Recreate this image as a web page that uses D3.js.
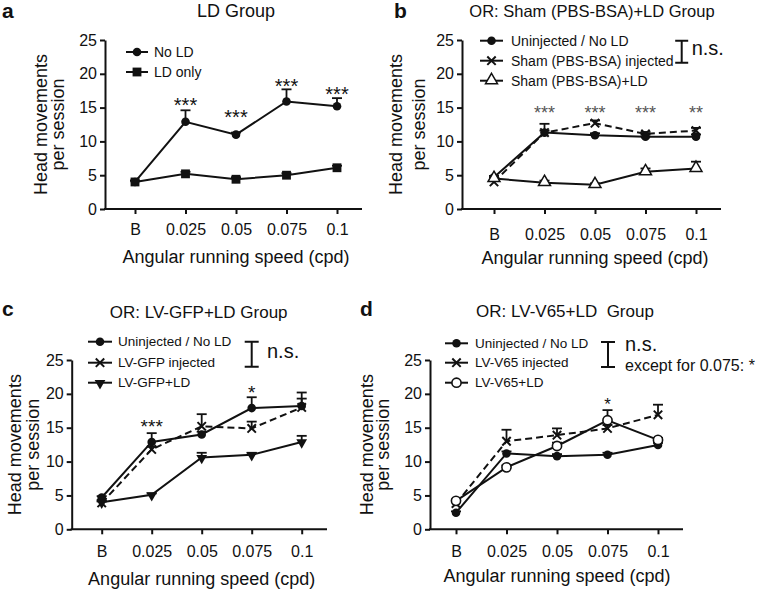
<!DOCTYPE html>
<html>
<head>
<meta charset="utf-8">
<script src="https://cdn.jsdelivr.net/npm/d3@7"></script>
<style>
  body { margin: 0; background: #fff; }
  text { white-space: pre; }
</style>
</head>
<body>
<script>
// ---------------- DATA ----------------
const categories = ["B", "0.025", "0.05", "0.075", "0.1"];
const yTickValues = [0, 5, 10, 15, 20, 25];

// Panel a: LD Group
const aTitle = "LD Group";
const aLabels = ["No LD", "LD only"];
const aNoLD = [4.0, 12.9, 11.0, 15.9, 15.2];
const aNoLDErr = [0.2, 1.7, 0.3, 1.8, 1.2];
const aLDOnly = [4.0, 5.2, 4.4, 5.0, 6.1];
const aLDOnlyErr = [0.2, 0.3, 0.3, 0.3, 0.3];
const aStarCats = ["0.025", "0.05", "0.075", "0.1"];
const aStarText = ["***", "***", "***", "***"];
const aStarLevel = [16.1, 14.3, 18.9, 17.75];

// Panel b: OR: Sham (PBS-BSA)+LD Group
const bTitle = "OR: Sham (PBS-BSA)+LD Group";
const bLabels = ["Uninjected / No LD", "Sham (PBS-BSA) injected", "Sham (PBS-BSA)+LD"];
const bUninj = [4.7, 11.3, 10.9, 10.7, 10.7];
const bUninjErr = [0.2, 0.3, 0.3, 0.3, 0.3];
const bSham = [4.0, 11.3, 12.7, 11.1, 11.6];
const bShamErr = [0.2, 1.3, 0.4, 0.3, 0.4];
const bShamLD = [4.5, 3.9, 3.6, 5.5, 6.0];
const bShamLDErr = [0.2, 0.3, 0.2, 0.5, 1.0];
const bStarCats = ["0.025", "0.05", "0.075", "0.1"];
const bStarText = ["***", "***", "***", "**"];
const bStarLevel = [14.8, 14.8, 14.8, 14.8];

// Panel c: OR: LV-GFP+LD Group
const cTitle = "OR: LV-GFP+LD Group";
const cLabels = ["Uninjected / No LD", "LV-GFP injected", "LV-GFP+LD"];
const cUninj = [4.7, 12.9, 14.0, 17.9, 18.2];
const cUninjErr = [0.2, 1.3, 0.4, 1.6, 1.1];
const cGFP = [3.9, 11.8, 15.2, 14.9, 18.0];
const cGFPErr = [0.2, 0.4, 1.8, 1.0, 2.2];
const cGFPLD = [4.0, 5.1, 10.6, 11.0, 12.9];
const cGFPLDErr = [0.2, 0.2, 0.7, 0.3, 0.9];
const cStarCats = ["0.025", "0.075"];
const cStarText = ["***", "*"];
const cStarLevel = [15.8, 20.8];

// Panel d: OR: LV-V65+LD  Group
const dTitle = "OR: LV-V65+LD  Group";
const dLabels = ["Uninjected / No LD", "LV-V65 injected", "LV-V65+LD"];
const dUninj = [2.45, 11.2, 10.8, 11.0, 12.45];
const dUninjErr = [0.2, 0.3, 0.3, 0.3, 0.3];
const dV65 = [3.8, 13.0, 13.9, 14.9, 16.9];
const dV65Err = [0.3, 1.7, 1.0, 0.5, 1.5];
const dV65LD = [4.2, 9.15, 12.3, 16.1, 13.2];
const dV65LDErr = [0.2, 0.3, 0.5, 1.5, 0.3];
const dStarCats = ["0.075"];
const dStarText = ["*"];
const dStarLevel = [19.1];
const dNote = "except for 0.075: *";

const yAxisTitle = ["Head movements", "per session"];
const xAxisTitle = "Angular running speed (cpd)";
const nsText = "n.s.";

// ---------------- LAYOUT ----------------
const FONT = "'Liberation Sans', Arial, Helvetica, sans-serif";
const panels = [
  { letter: "a", title: aTitle, titleSize: 18, titleDx: 0,
    left: 105, bottom: 209, top: 40, xFirst: 135, xLast: 337, axisEnd: 362,
    tickBase: 235, xTitleBase: 263, titleBase: 17, yT1: 47, yT2: 64,
    letterX: 2, letterBase: 18,
    legend: { x0: 126, x1: 148, tx: 154, ys: [52, 72], fs: 14 },
    labels: aLabels,
    series: [
      { v: aNoLD, e: aNoLDErr, marker: "circle", dashed: false },
      { v: aLDOnly, e: aLDOnlyErr, marker: "square", dashed: false }
    ],
    stars: { cats: aStarCats, text: aStarText, level: aStarLevel, fs: 20, color: "#111" }
  },
  { letter: "b", title: bTitle, titleSize: 16.5, titleDx: -3,
    left: 462, bottom: 209, top: 40, xFirst: 494, xLast: 696, axisEnd: 721,
    tickBase: 240, xTitleBase: 263.5, titleBase: 17, yT1: 402, yT2: 425,
    letterX: 394, letterBase: 18,
    legend: { x0: 480, x1: 503, tx: 511, ys: [40.7, 60.7, 80.7], fs: 14 },
    labels: bLabels,
    series: [
      { v: bUninj, e: bUninjErr, marker: "circle", dashed: false },
      { v: bSham, e: bShamErr, marker: "times", dashed: true },
      { v: bShamLD, e: bShamLDErr, marker: "triUp", dashed: false }
    ],
    stars: { cats: bStarCats, text: bStarText, level: bStarLevel, fs: 18, color: "#555" },
    ns: { x: 681.7, y1: 40.7, y2: 62.7, cap: 6.5, tx: 691.7, tBase: 55 }
  },
  { letter: "c", title: cTitle, titleSize: 17, titleDx: -3,
    left: 71.7, bottom: 529.3, top: 360, xFirst: 101.7, xLast: 301.7, axisEnd: 327,
    tickBase: 556.7, xTitleBase: 585, titleBase: 318, yT1: 21, yT2: 39,
    letterX: 2, letterBase: 316,
    legend: { x0: 88, x1: 112, tx: 118, ys: [341.7, 362.7, 382.7], fs: 13.5 },
    labels: cLabels,
    series: [
      { v: cUninj, e: cUninjErr, marker: "circle", dashed: false },
      { v: cGFP, e: cGFPErr, marker: "times", dashed: true },
      { v: cGFPLD, e: cGFPLDErr, marker: "triDown", dashed: false }
    ],
    stars: { cats: cStarCats, text: cStarText, level: cStarLevel, fs: 19, color: "#111" },
    ns: { x: 251.7, y1: 341.7, y2: 366.7, cap: 7, tx: 267, tBase: 357.5 }
  },
  { letter: "d", title: dTitle, titleSize: 17, titleDx: 8,
    left: 430, bottom: 529.3, top: 360, xFirst: 456, xLast: 658, axisEnd: 683,
    tickBase: 556.7, xTitleBase: 582, titleBase: 317, yT1: 373, yT2: 389,
    letterX: 360, letterBase: 316,
    legend: { x0: 445, x1: 468, tx: 475, ys: [343.3, 362.7, 382.7], fs: 13.5 },
    labels: dLabels,
    series: [
      { v: dUninj, e: dUninjErr, marker: "circle", dashed: false },
      { v: dV65, e: dV65Err, marker: "times", dashed: true },
      { v: dV65LD, e: dV65LDErr, marker: "circleOpen", dashed: false }
    ],
    stars: { cats: dStarCats, text: dStarText, level: dStarLevel, fs: 17, color: "#111" },
    ns: { x: 608, y1: 342, y2: 367, cap: 7, tx: 625, tBase: 351 },
    note: { text: dNote, x: 625, base: 371, fs: 16 }
  }
];

// ---------------- DRAW ----------------
const svg = d3.select("body").append("svg")
  .attr("width", 758).attr("height", 589)
  .style("font-family", FONT);

const INK = "#111";

function drawMarker(g, type, x, y) {
  if (type === "circle") {
    g.append("circle").attr("cx", x).attr("cy", y).attr("r", 4.3).attr("fill", INK);
  } else if (type === "circleOpen") {
    g.append("circle").attr("cx", x).attr("cy", y).attr("r", 4.6)
      .attr("fill", "#fff").attr("stroke", INK).attr("stroke-width", 1.6);
  } else if (type === "square") {
    g.append("path").attr("d", d3.symbol(d3.symbolSquare, 78)())
      .attr("transform", `translate(${x},${y})`).attr("fill", INK);
  } else if (type === "triUp") {
    g.append("path").attr("d", d3.symbol(d3.symbolTriangle, 62)())
      .attr("transform", `translate(${x},${y - 0.5})`)
      .attr("fill", "#fff").attr("stroke", INK).attr("stroke-width", 1.5);
  } else if (type === "triDown") {
    g.append("path").attr("d", d3.symbol(d3.symbolTriangle, 50)())
      .attr("transform", `translate(${x},${y + 0.5}) rotate(180)`).attr("fill", INK);
  } else if (type === "times") {
    const s = 4.2;
    g.append("path").attr("d", `M${x - s},${y - s}L${x + s},${y + s}M${x - s},${y + s}L${x + s},${y - s}`)
      .attr("stroke", INK).attr("stroke-width", 2).attr("fill", "none");
  }
}

panels.forEach(p => {
  const g = svg.append("g");
  const x = d3.scalePoint().domain(categories).range([p.xFirst, p.xLast]);
  const y = d3.scaleLinear().domain([0, 25]).range([p.bottom, p.top]);
  const xMid = (p.xFirst + p.xLast) / 2;

  // y axis
  const yAx = g.append("g").attr("transform", `translate(${p.left},0)`)
    .call(d3.axisLeft(y).tickValues(yTickValues).tickSize(5).tickSizeOuter(0).tickPadding(3));
  yAx.select(".domain").attr("stroke", INK).attr("stroke-width", 2);
  yAx.selectAll(".tick line").attr("stroke", INK).attr("stroke-width", 2);
  yAx.selectAll(".tick text").attr("font-size", 16).attr("font-family", FONT).attr("fill", INK);

  // x axis
  const xAx = g.append("g").attr("transform", `translate(0,${p.bottom})`)
    .call(d3.axisBottom(x).tickSize(5).tickSizeOuter(0).tickPadding(0));
  xAx.select(".domain").remove();
  xAx.selectAll(".tick line").attr("stroke", INK).attr("stroke-width", 2);
  xAx.selectAll(".tick text").attr("font-size", 16).attr("font-family", FONT).attr("fill", INK)
    .attr("dy", null).attr("y", p.tickBase - p.bottom);
  g.append("line").attr("x1", p.left - 1).attr("x2", p.axisEnd)
    .attr("y1", p.bottom).attr("y2", p.bottom).attr("stroke", INK).attr("stroke-width", 2);

  // axis titles
  g.append("text").attr("x", xMid).attr("y", p.xTitleBase).attr("text-anchor", "middle")
    .attr("font-size", 18).attr("fill", INK).text(xAxisTitle);
  const yMid = (p.top + p.bottom) / 2;
  [p.yT1, p.yT2].forEach((bx, i) => {
    g.append("text").attr("transform", `translate(${bx},${yMid}) rotate(-90)`)
      .attr("text-anchor", "middle").attr("font-size", 18).attr("fill", INK).text(yAxisTitle[i]);
  });

  // title and letter
  g.append("text").attr("x", xMid + p.titleDx).attr("y", p.titleBase).attr("text-anchor", "middle")
    .attr("font-size", p.titleSize).attr("fill", INK).text(p.title);
  g.append("text").attr("x", p.letterX).attr("y", p.letterBase).attr("font-size", 21)
    .attr("font-weight", "bold").attr("fill", INK).text(p.letter);

  // lines
  const line = d3.line().x((d, i) => x(categories[i])).y(d => y(d));
  p.series.forEach(s => {
    g.append("path").datum(s.v).attr("d", line).attr("fill", "none")
      .attr("stroke", INK).attr("stroke-width", 2)
      .attr("stroke-dasharray", s.dashed ? "7,4" : null);
  });
  // error bars (upper)
  p.series.forEach(s => {
    s.v.forEach((v, i) => {
      const cx = x(categories[i]);
      const top = y(v + s.e[i]);
      g.append("line").attr("x1", cx).attr("x2", cx).attr("y1", y(v)).attr("y2", top)
        .attr("stroke", INK).attr("stroke-width", 1.8);
      g.append("line").attr("x1", cx - 5).attr("x2", cx + 5).attr("y1", top).attr("y2", top)
        .attr("stroke", INK).attr("stroke-width", 1.8);
    });
  });
  // markers
  p.series.forEach(s => {
    s.v.forEach((v, i) => drawMarker(g, s.marker, x(categories[i]), y(v)));
  });

  // stars
  const st = p.stars;
  st.cats.forEach((c, i) => {
    g.append("text").attr("x", x(c)).attr("y", y(st.level[i]) + 0.575 * st.fs)
      .attr("text-anchor", "middle").attr("font-size", st.fs).attr("fill", st.color).text(st.text[i]);
  });

  // legend
  const L = p.legend;
  p.series.forEach((s, i) => {
    const ly = L.ys[i];
    g.append("line").attr("x1", L.x0).attr("x2", L.x1).attr("y1", ly).attr("y2", ly)
      .attr("stroke", INK).attr("stroke-width", 2);
    drawMarker(g, s.marker, (L.x0 + L.x1) / 2, ly);
    g.append("text").attr("x", L.tx).attr("y", ly).attr("dy", "0.35em")
      .attr("font-size", L.fs).attr("fill", INK).text(p.labels[i]);
  });

  // n.s. bracket
  if (p.ns) {
    const n = p.ns;
    g.append("path")
      .attr("d", `M${n.x},${n.y1}L${n.x},${n.y2}M${n.x - n.cap},${n.y1}L${n.x + n.cap},${n.y1}M${n.x - n.cap},${n.y2}L${n.x + n.cap},${n.y2}`)
      .attr("stroke", INK).attr("stroke-width", 2).attr("fill", "none");
    g.append("text").attr("x", n.tx).attr("y", n.tBase).attr("font-size", 20).attr("fill", INK).text(nsText);
  }
  if (p.note) {
    g.append("text").attr("x", p.note.x).attr("y", p.note.base).attr("font-size", p.note.fs)
      .attr("fill", INK).text(p.note.text);
  }
});
</script>
</body>
</html>
